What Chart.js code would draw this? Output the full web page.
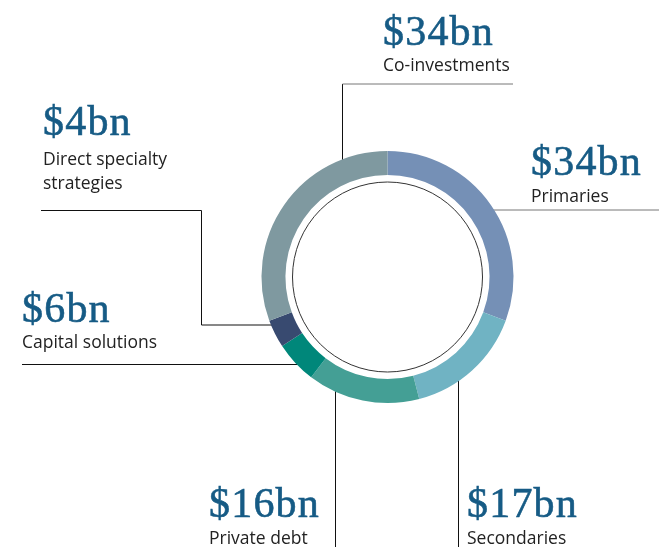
<!DOCTYPE html>
<html>
<head>
<meta charset="utf-8">
<script src="https://cdn.jsdelivr.net/npm/chart.js@4"></script>
<style>
  html, body { margin: 0; padding: 0; background: #fff; }
  #wrap { position: relative; width: 659px; height: 547px; overflow: hidden; }
  #labels { position: absolute; left: 0; top: 0; pointer-events: none; }
  .big { font-family: "Liberation Serif", serif; font-size: 42px; fill: #165b85; stroke: #165b85; stroke-width: 0.6px; letter-spacing: 1.2px; }
  .small { font-family: "Open Sans", sans-serif; font-size: 17.5px; fill: #222; }
</style>
</head>
<body>
<div id="wrap">
  <canvas id="myChart" width="659" height="547"></canvas>
  <svg id="labels" width="659" height="547"></svg>
</div>
<script>
const categories = ["Primaries", "Secondaries", "Private debt", "Capital solutions", "Direct specialty strategies", "Co-investments"];
const values = [34, 17, 16, 6, 4, 34];
const colors = ["#7590b6", "#70b3c3", "#449f95", "#00877a", "#384a70", "#7f99a0"];

// label text lines and where they sit (x, baseline of big number, baseline of first small line)
const labelLines = [["Primaries"], ["Secondaries"], ["Private debt"], ["Capital solutions"], ["Direct specialty", "strategies"], ["Co-investments"]];
const labelSpots = [[531, 175, 202], [467, 517, 544], [209, 517, 544], [22, 322, 348], [43, 135, 165], [383, 45, 71]];

// leader lines: kind "v" hits ring at fixed x, "h" at fixed y; pts are the outer bends
const leaders = [
  { kind: "h", at: 210, side: 1, pts: [[659, 210]], color: "#777" },
  { kind: "v", at: 458.5, side: 1, pts: [[458.5, 547]], color: "#111" },
  { kind: "v", at: 335.5, side: 1, pts: [[335.5, 547]], color: "#111" },
  { kind: "h", at: 364.5, side: -1, pts: [[22, 364.5]], color: "#111" },
  { kind: "h", at: 325, side: -1, pts: [[41, 210.5], [201.5, 210.5], [201.5, 325]], color: "#111" },
  { kind: "v", at: 342.5, side: -1, pts: [[342.5, 84]], color: "#111" }
];

const ringExtras = {
  id: "ringExtras",
  beforeDatasetsDraw(chart) {
    const arc = chart.getDatasetMeta(0).data[0];
    const cx = arc.x, cy = arc.y, r = arc.outerRadius - 4;
    const c = chart.ctx;
    c.save();
    c.lineWidth = 1;
    leaders.forEach(function (l) {
      let end;
      if (l.kind === "h") {
        const d = Math.sqrt(r * r - (l.at - cy) * (l.at - cy));
        end = [cx + l.side * d, l.at];
      } else {
        const d = Math.sqrt(r * r - (l.at - cx) * (l.at - cx));
        end = [l.at, cy + l.side * d];
      }
      c.strokeStyle = l.color;
      c.beginPath();
      c.moveTo(l.pts[0][0], l.pts[0][1]);
      for (let i = 1; i < l.pts.length; i++) c.lineTo(l.pts[i][0], l.pts[i][1]);
      c.lineTo(end[0], end[1]);
      c.stroke();
    });
    // grey top rule of co-investments label
    c.strokeStyle = "#777";
    c.beginPath();
    c.moveTo(342.5, 84);
    c.lineTo(513, 84);
    c.stroke();
    c.restore();
  },
  afterDatasetsDraw(chart) {
    const arc = chart.getDatasetMeta(0).data[0];
    const c = chart.ctx;
    c.save();
    c.strokeStyle = "#333";
    c.lineWidth = 1;
    c.beginPath();
    c.arc(arc.x, arc.y, 95, 0, Math.PI * 2);
    c.stroke();
    c.restore();
  }
};

const ctx = document.getElementById("myChart");

new Chart(ctx, {
  type: "doughnut",
  data: {
    labels: categories,
    datasets: [{
      data: values,
      backgroundColor: colors,
      borderWidth: 0
    }]
  },
  options: {
    responsive: false,
    animation: false,
    cutout: "81%",
    layout: { padding: { left: 261, right: 145, top: 151, bottom: 144 } },
    plugins: {
      legend: { display: false },
      tooltip: { enabled: false }
    }
  },
  plugins: [ringExtras]
});

const svg = document.getElementById("labels");
const ns = "http://www.w3.org/2000/svg";
function addText(x, y, cls, str) {
  const t = document.createElementNS(ns, "text");
  t.setAttribute("x", x);
  t.setAttribute("y", y);
  t.setAttribute("class", cls);
  t.textContent = str;
  svg.appendChild(t);
}
categories.forEach(function (cat, i) {
  const s = labelSpots[i];
  addText(s[0], s[1], "big", "$" + values[i] + "bn");
  labelLines[i].forEach(function (line, j) {
    addText(s[0], s[2] + j * 24, "small", line);
  });
});
</script>
</body>
</html>
